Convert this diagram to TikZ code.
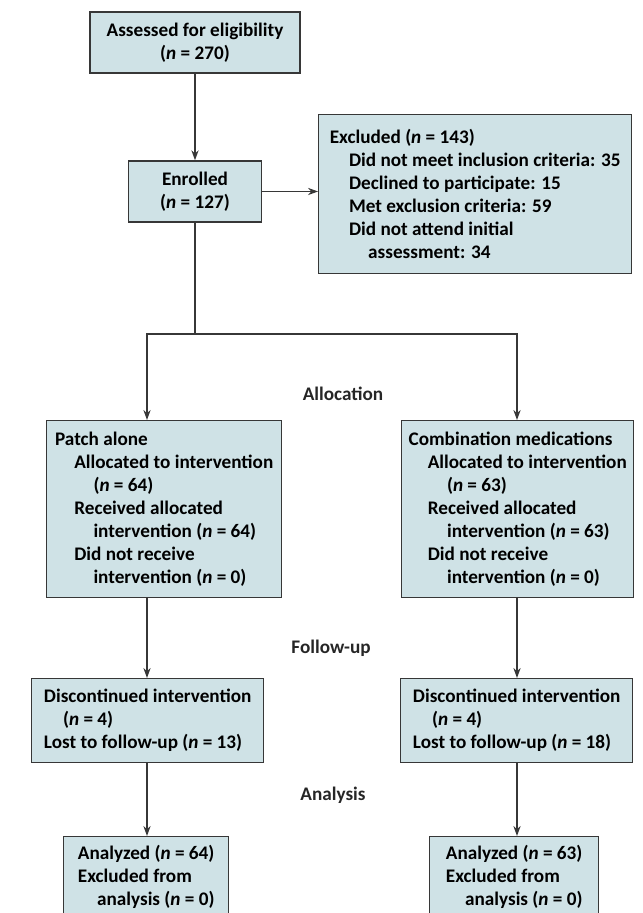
\documentclass[tikz,border=0pt]{standalone}
\usepackage{fontspec}
\setmainfont{Carlito}
\usetikzlibrary{arrows.meta}
\definecolor{boxblue}{RGB}{207,226,230}
\definecolor{linegray}{RGB}{55,55,55}
\newcommand{\ind}{\hspace*{1em}}
\newcommand{\indd}{\hspace*{2em}}
\newcommand{\nn}{\textit{n}}

\begin{document}
\begin{tikzpicture}[x=0.5pt, y=-0.5pt,
		font=\fontsize{9.6}{11.5}\selectfont\bfseries,
		box/.style={draw=linegray, fill=boxblue, line width=0.7pt, inner sep=0pt, align=left, anchor=north west},
		cbox/.style={draw=linegray, fill=boxblue, line width=0.7pt, inner sep=0pt, align=center},
		lbl/.style={text=black!85},
		arr/.style={-{Stealth[length=5pt, width=3.6pt]}, draw=linegray, line width=0.65pt},
		line/.style={draw=linegray, line width=0.65pt}]
		\useasboundingbox (0,0) rectangle (642,913);
		\clip (0,0) rectangle (642,913);

		% Kolonner
		\coordinate (colL) at (147,0);
		\coordinate (colR) at (517,0);
		\coordinate (split) at (195,334);

		% Innrullering
		\node[cbox, minimum width=105pt, minimum height=30.5pt] (assess) at (195,42.5) {Assessed for eligibility\\(\nn{} = 270)};
		\node[cbox, minimum width=66.5pt, minimum height=30.5pt] (enrol) at (195,191.5) {Enrolled\\(\nn{} = 127)};
		\node[box, minimum width=156.5pt, minimum height=79.5pt] (excl) at (318,114) {Excluded (\nn{} = 143)\\
			\ind Did not meet inclusion criteria: 35\\
			\ind Declined to participate: 15\\
			\ind Met exclusion criteria: 59\\
			\ind Did not attend initial\\
			\indd assessment: 34};

		% Allokering
		\node[box, minimum width=117.5pt, minimum height=88.5pt] (patch) at (46,420) {Patch alone\\
			\ind Allocated to intervention\\
			\indd (\nn{} = 64)\\
			\ind Received allocated\\
			\indd intervention (\nn{} = 64)\\
			\ind Did not receive\\
			\indd intervention (\nn{} = 0)};
		\node[box, minimum width=116pt, minimum height=88.5pt] (combo) at (401,420) {Combination medications\\
			\ind Allocated to intervention\\
			\indd (\nn{} = 63)\\
			\ind Received allocated\\
			\indd intervention (\nn{} = 63)\\
			\ind Did not receive\\
			\indd intervention (\nn{} = 0)};

		% Oppfolging
		\node[box, minimum width=116pt, minimum height=42pt] (discL) at (31,678) {Discontinued intervention\\
			\ind(\nn{} = 4)\\
			Lost to follow-up (\nn{} = 13)};
		\node[box, minimum width=116pt, minimum height=42pt] (discR) at (400,678) {Discontinued intervention\\
			\ind(\nn{} = 4)\\
			Lost to follow-up (\nn{} = 18)};

		% Analyse
		\node[box, minimum width=82.5pt, minimum height=40pt] (anaL) at (63,836) {Analyzed (\nn{} = 64)\\
			Excluded from\\
			\ind analysis (\nn{} = 0)};
		\node[box, minimum width=84.5pt, minimum height=40pt] (anaR) at (429,836) {Analyzed (\nn{} = 63)\\
			Excluded from\\
			\ind analysis (\nn{} = 0)};

		% Fasenavn
		\node[lbl] (alloc) at (343,394) {Allocation};
		\node[lbl] (follow) at (331,648) {Follow-up};
		\node[lbl] (analysis) at (333,795) {Analysis};

		% Piler
		\draw[arr] (assess) -- (enrol);
		\draw[arr] (enrol.east) -- (enrol.east -| excl.west);
		\draw[line] (enrol.south) -- (split);
		\draw[arr] (split) -| (patch.north -| colL);
		\draw[arr] (split) -| (combo.north -| colR);
		\draw[arr] (patch.south -| colL) -- (discL.north -| colL);
		\draw[arr] (combo.south -| colR) -- (discR.north -| colR);
		\draw[arr] (discL.south -| colL) -- (anaL.north -| colL);
		\draw[arr] (discR.south -| colR) -- (anaR.north -| colR);
	\end{tikzpicture}
\end{document}
